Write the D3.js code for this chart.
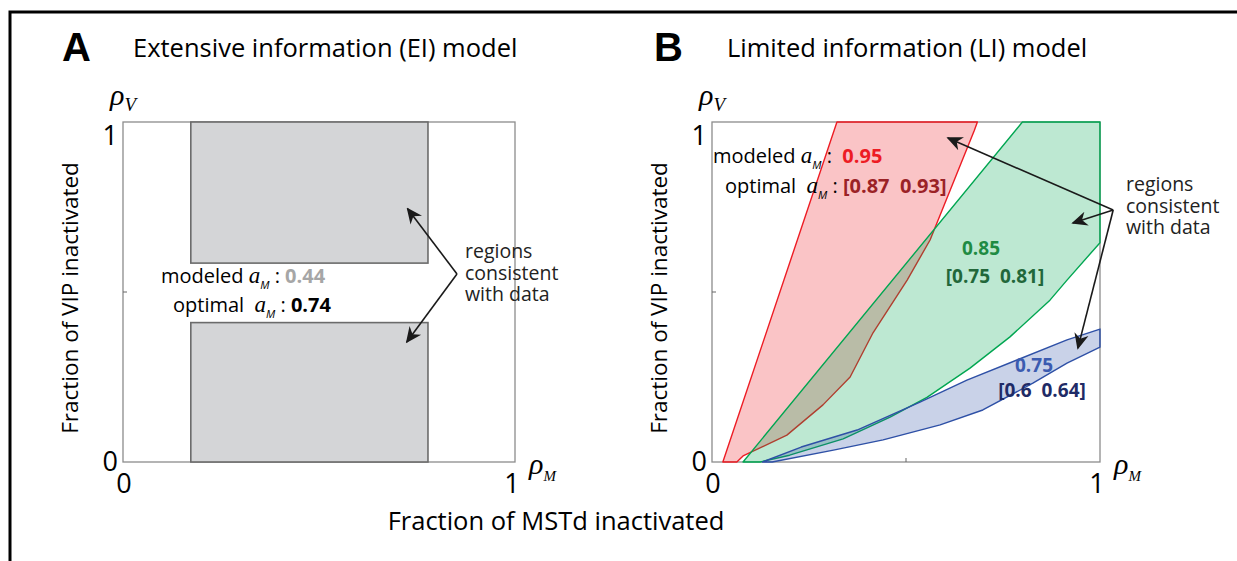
<!DOCTYPE html>
<html>
<head>
<meta charset="utf-8">
<script src="https://cdn.jsdelivr.net/npm/d3@7"></script>
<style>
  body { margin: 0; background: #fff; }
  svg { display: block; font-family: 'Open Sans', sans-serif; }
</style>
</head>
<body>
<svg id="fig" width="1237" height="561"></svg>
<script>
// panel A: EI model, rectangular regions (rhoM range, rhoV range)
var eiRegions = [
  {x0: 0.173, x1: 0.778, y0: 0.585, y1: 1.0},
  {x0: 0.173, x1: 0.778, y0: 0.0, y1: 0.41}
];

// panel B: LI model, boundaries of the regions consistent with data
var redRegion = [[0.028,0],[0.064,0],[0.08,0.018],[0.193,0.079],[0.286,0.168],[0.356,0.25],
  [0.415,0.38],[0.503,0.535],[0.562,0.653],[0.676,0.975],[0.684,1],[0.322,1]];
var greenRegion = [[0.08,0],[0.124,0],[0.2,0.02],[0.338,0.068],[0.459,0.132],[0.554,0.19],
  [0.665,0.276],[0.768,0.368],[0.871,0.476],[0.915,0.535],[1,0.645],[1,1],[0.8,1]];
var blueRegion = [[0.13,0],[0.23,0.044],[0.374,0.094],[0.536,0.176],[0.657,0.241],[0.786,0.30],
  [0.915,0.359],[1,0.391],[1,0.338],[0.915,0.291],[0.827,0.232],[0.698,0.153],[0.588,0.109],
  [0.441,0.065],[0.313,0.035],[0.155,0]];

var ticks = [0, 1];
var regionWords = ['regions', 'consistent', 'with data'];

var svg = d3.select('#fig');

// frame lines
svg.append('path').attr('d', 'M10,561V12H1237')
  .attr('fill', 'none').attr('stroke', '#000').attr('stroke-width', 3);

svg.append('defs').append('marker')
  .attr('id', 'head').attr('viewBox', '0 0 10 10')
  .attr('refX', 9).attr('refY', 5)
  .attr('markerWidth', 16).attr('markerHeight', 16)
  .attr('markerUnits', 'userSpaceOnUse')
  .attr('orient', 'auto')
  .append('path').attr('d', 'M0,0.5L10,5L0,9.5L3,5Z').attr('fill', '#1a1a1a');

function panel(opt) {
  var x = d3.scaleLinear().domain([0, 1]).range([opt.left, opt.left + opt.w]);
  var y = d3.scaleLinear().domain([0, 1]).range([opt.top + opt.h, opt.top]);
  var g = svg.append('g');

  g.append('text').attr('x', opt.letterX).attr('y', 61)
    .attr('font-size', 40).attr('font-weight', 'bold').attr('font-family', 'Liberation Sans, Arial')
    .text(opt.letter);
  g.append('text').attr('x', opt.titleX).attr('y', 57)
    .attr('font-size', 25.5).text(opt.title);

  // axes box
  g.append('rect').attr('x', x(0)).attr('y', y(1))
    .attr('width', x(1) - x(0)).attr('height', y(0) - y(1))
    .attr('fill', 'none').attr('stroke', '#8c8c8c').attr('stroke-width', 1.3);
  // mid ticks
  g.append('line').attr('x1', x(0.5)).attr('x2', x(0.5)).attr('y1', y(0)).attr('y2', y(0) - 4)
    .attr('stroke', '#666');
  g.append('line').attr('x1', x(0)).attr('x2', x(0) + 4).attr('y1', y(0.5)).attr('y2', y(0.5))
    .attr('stroke', '#666');

  g.selectAll('.xt').data(ticks).enter().append('text')
    .attr('x', function(d) { return x(d) + (d ? -3 : 1); }).attr('y', y(0) + 31)
    .attr('text-anchor', 'middle').attr('font-size', 27).text(function(d) { return d; });
  // matlab-like placement: top label sits just below the top edge
  g.selectAll('.yt').data(ticks).enter().append('text')
    .attr('x', x(0) - 5).attr('y', function(d) { return y(d) + (d ? 23 : 9); })
    .attr('text-anchor', 'end').attr('font-size', 27).text(function(d) { return d; });

  // rho labels
  var rv = g.append('text').attr('x', x(0) - 13).attr('y', y(1) - 17)
    .attr('font-family', 'Liberation Serif, serif').attr('font-style', 'italic').attr('font-size', 30);
  rv.append('tspan').text('\u03c1');
  rv.append('tspan').attr('font-size', 19).attr('dy', 6).text('V');
  var rm = g.append('text').attr('x', x(1) + 14).attr('y', y(0) + 12)
    .attr('font-family', 'Liberation Serif, serif').attr('font-style', 'italic').attr('font-size', 30);
  rm.append('tspan').text('\u03c1');
  rm.append('tspan').attr('font-size', 15).attr('dy', 7).text('M');

  g.append('text')
    .attr('transform', 'translate(' + (x(0) - 45) + ',' + (y(0.5) + 6) + ') rotate(-90)')
    .attr('text-anchor', 'middle').attr('font-size', 22.5).text('Fraction of VIP inactivated');

  return {g: g, x: x, y: y};
}

function aM(t, x, y, label) {
  var txt = t.append('text').attr('x', x).attr('y', y).attr('font-size', 20);
  txt.append('tspan').text(label + ' ');
  txt.append('tspan').attr('font-style', 'italic').attr('font-family', 'Liberation Serif, serif')
    .attr('font-size', 23).text('a');
  txt.append('tspan').attr('font-style', 'italic').attr('font-size', 11).attr('dy', 6).text('M');
  txt.append('tspan').attr('dy', -6).text(' : ');
  return txt;
}

function arrows(p, from, tips) {
  tips.forEach(function(t) {
    p.g.append('line')
      .attr('x1', p.x(from[0])).attr('y1', p.y(from[1]))
      .attr('x2', p.x(t[0])).attr('y2', p.y(t[1]))
      .attr('stroke', '#1a1a1a').attr('stroke-width', 1.6)
      .attr('marker-end', 'url(#head)');
  });
}

function regionsLabel(g, x, y) {
  var t = g.append('text').attr('font-size', 19.5).attr('fill', '#222');
  t.selectAll('tspan').data(regionWords).enter().append('tspan')
    .attr('x', x).attr('y', function(d, i) { return y + i * 21.5; })
    .text(function(d) { return d; });
}

// ---- panel A
var pA = panel({left: 123, top: 122, w: 392, h: 340, letter: 'A', letterX: 62,
  title: 'Extensive information (EI) model', titleX: 133});

pA.g.selectAll('.ei').data(eiRegions).enter().append('rect')
  .attr('x', function(d) { return pA.x(d.x0); })
  .attr('y', function(d) { return pA.y(d.y1); })
  .attr('width', function(d) { return pA.x(d.x1) - pA.x(d.x0); })
  .attr('height', function(d) { return pA.y(d.y0) - pA.y(d.y1); })
  .attr('fill', '#d4d5d7').attr('stroke', '#6b6b6b').attr('stroke-width', 1.6);

var tA = pA.g.append('g');
aM(tA, 161, 283, 'modeled').append('tspan').attr('font-weight', 'bold').attr('fill', '#a6a6a6').text('0.44');
aM(tA, 173, 312, 'optimal\u00a0').append('tspan').attr('font-weight', 'bold').attr('fill', '#000').text('0.74');
regionsLabel(pA.g, 465, 258);
arrows(pA, [0.852, 0.553], [[0.726, 0.745], [0.724, 0.353]]);

// ---- panel B
var pB = panel({left: 712, top: 122, w: 388, h: 340, letter: 'B', letterX: 654,
  title: 'Limited information (LI) model', titleX: 727});

var line = d3.line().x(function(d) { return pB.x(d[0]); }).y(function(d) { return pB.y(d[1]); })
  .curve(d3.curveLinearClosed);

var liRegions = [
  {pts: redRegion, c: 'rgb(237,28,36)'},
  {pts: greenRegion, c: 'rgb(0,166,81)'},
  {pts: blueRegion, c: 'rgb(46,80,166)'}
];
pB.g.selectAll('.li').data(liRegions).enter().append('path')
  .attr('d', function(d) { return line(d.pts); })
  .attr('fill', function(d) { return d.c; }).attr('fill-opacity', 0.26)
  .attr('stroke', function(d) { return d.c; }).attr('stroke-width', 1.4)
  .attr('stroke-linejoin', 'round');

var tB = pB.g.append('g');
aM(tB, 713, 163, 'modeled').append('tspan').attr('font-weight', 'bold').attr('fill', '#ed1c24').text('\u00a00.95');
aM(tB, 725, 193, 'optimal\u00a0').append('tspan').attr('font-weight', 'bold').attr('fill', '#9b2226').text('[0.87\u00a0 0.93]');

var bLabels = [
  {t: '0.85', x: 981, y: 255, c: '#1f8b43'},
  {t: '[0.75\u00a0 0.81]', x: 995, y: 283, c: '#22673a'},
  {t: '0.75', x: 1034, y: 372, c: '#3b5bb0'},
  {t: '[0.6\u00a0 0.64]', x: 1042, y: 397, c: '#1f2b66'}
];
tB.selectAll(null).data(bLabels).enter().append('text')
  .attr('x', function(d) { return d.x; }).attr('y', function(d) { return d.y; })
  .attr('text-anchor', 'middle').attr('font-size', 19).attr('font-weight', 'bold')
  .attr('fill', function(d) { return d.c; }).text(function(d) { return d.t; });

regionsLabel(pB.g, 1126, 191);
arrows(pB, [1.034, 0.741], [[0.608, 0.953], [0.93, 0.703], [0.943, 0.335]]);

svg.append('text').attr('x', 556).attr('y', 530).attr('text-anchor', 'middle')
  .attr('font-size', 25.5).text('Fraction of MSTd inactivated');
</script>
</body>
</html>
